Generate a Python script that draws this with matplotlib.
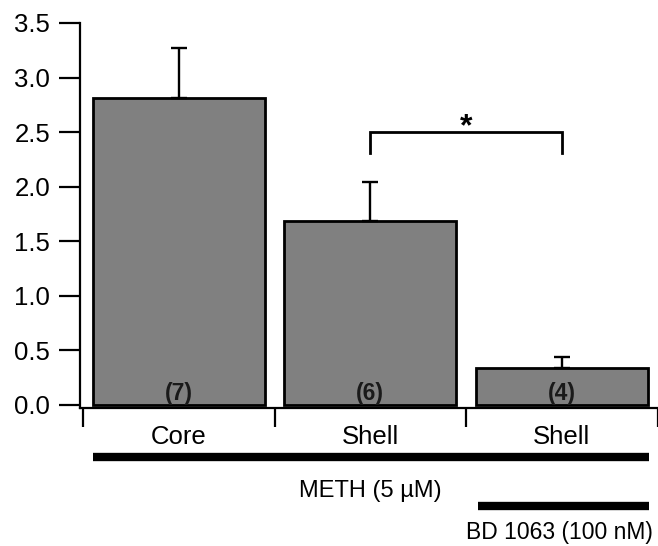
import matplotlib
matplotlib.use("Agg")
import matplotlib.pyplot as plt
import matplotlib.transforms as mtransforms

plt.rcParams['font.family'] = ['Liberation Sans', 'DejaVu Sans']

categories = ["Core", "Shell", "Shell"]
means = [2.81, 1.69, 0.34]
sem_upper = [0.46, 0.35, 0.10]
counts = ["(7)", "(6)", "(4)"]
yticks = [0.0, 0.5, 1.0, 1.5, 2.0, 2.5, 3.0, 3.5]
ytick_labels = ["0.0", "0.5", "1.0", "1.5", "2.0", "2.5", "3.0", "3.5"]
sig_pair = (1, 2)
sig_label = "*"
treatment1 = "METH (5 µM)"
treatment2 = "BD 1063 (100 nM)"

W, H = 658, 546
fig = plt.figure(figsize=(W / 100, H / 100), dpi=100)

def fy(py):
    return 1 - py / H

ax = fig.add_axes([80 / W, fy(408), (658 - 80) / W, (408 - 23) / H])

x = list(range(len(categories)))
ax.bar(x, means, width=0.9, color="#808080", edgecolor="black", linewidth=2.0, zorder=2)
ax.errorbar(x, means, yerr=[[0] * len(means), sem_upper], fmt="none", ecolor="black",
            elinewidth=1.7, capsize=6, capthick=1.7, zorder=3)

for xi, c in zip(x, counts):
    ax.text(xi, 0.046, c, ha="center", va="baseline", fontsize=16.5, fontweight="bold",
            color="#1a1a1a", zorder=4)

# significance bracket
x1, x2 = sig_pair
ax.plot([x1, x1, x2, x2], [2.31, 2.50, 2.50, 2.31], color="black", lw=2.0,
        solid_joinstyle="miter", clip_on=False)
ax.text((x1 + x2) / 2, 2.47, sig_label, ha="center", va="baseline", fontsize=23,
        fontweight="bold")

# axes limits (pixel-calibrated)
ax.set_xlim(-0.5156, 2.502)
ax.set_ylim(-3 / 109.14, 3.5)

ax.spines["top"].set_visible(False)
ax.spines["right"].set_visible(False)
for s in ("left", "bottom"):
    ax.spines[s].set_linewidth(1.6)

ax.set_yticks(yticks)
ax.set_yticklabels(ytick_labels)
ax.tick_params(axis="y", direction="out", length=15, width=1.6, pad=6.5, labelsize=18.5)

# boundary ticks (major) and category labels (minor)
ax.set_xticks([-0.5, 0.5, 1.5, 2.5])
ax.set_xticklabels([])
ax.tick_params(axis="x", which="major", direction="out", length=14, width=1.6)
ax.set_xticks(x, minor=True)
ax.set_xticklabels(categories, minor=True)
ax.tick_params(axis="x", which="minor", length=0, pad=12, labelsize=18.5)

# treatment bars below the axis
trans = mtransforms.blended_transform_factory(ax.transData, fig.transFigure)
ax.plot([-0.45, 2.455], [fy(457), fy(457)], color="black", lw=6, solid_capstyle="butt",
        transform=trans, clip_on=False)
ax.text(1.0, fy(497), treatment1, ha="center", va="baseline", fontsize=17,
        transform=trans)
ax.plot([1.56, 2.455], [fy(506), fy(506)], color="black", lw=6, solid_capstyle="butt",
        transform=trans, clip_on=False)
ax.text(1.99, fy(539), treatment2, ha="center", va="baseline", fontsize=16.5,
        transform=trans)

fig.savefig("out.png", dpi=100)
